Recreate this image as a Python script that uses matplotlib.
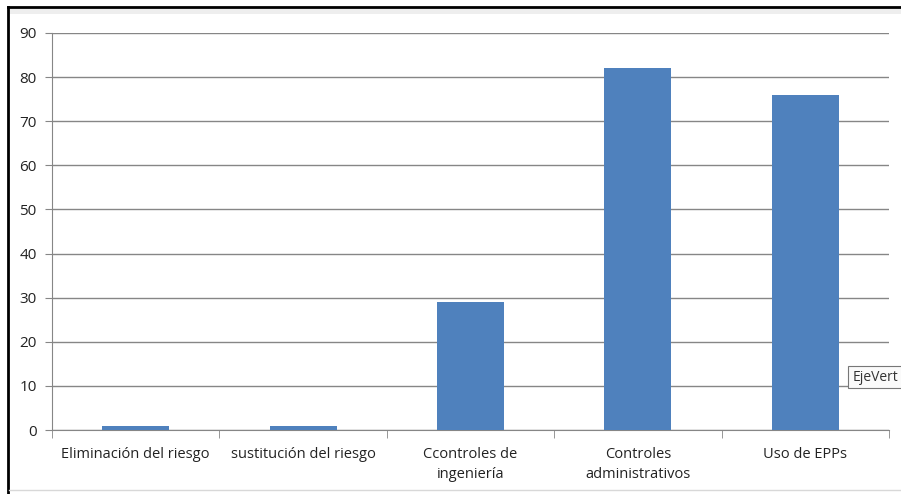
import matplotlib
matplotlib.use('Agg')
import matplotlib.pyplot as plt
import numpy as np

categories = ['Eliminación del riesgo', 'sustitución del riesgo', 'Ccontroles de\ningeniería',
              'Controles\nadministrativos', 'Uso de EPPs']
values = [1, 1, 29, 82, 76]
y_ticks = [0, 10, 20, 30, 40, 50, 60, 70, 80, 90]

plt.rcParams['font.family'] = ['Open Sans', 'DejaVu Sans']

fig = plt.figure(figsize=(9.01, 4.94), dpi=100)
ax = fig.add_axes([52 / 901, 1 - 430 / 494, (889 - 52) / 901, (430 - 33) / 494])

x = np.arange(len(categories))
ax.bar(x, values, width=0.4, color='#4f81bd', zorder=3)

ax.set_xlim(-0.5, len(categories) - 0.5)
ax.set_ylim(0, 90)
ax.set_yticks(y_ticks)
ax.yaxis.grid(True, color='#868686', linewidth=1, zorder=0)
ax.set_xticks(x)
ax.set_xticklabels(categories, fontsize=10.5, color='#222222', linespacing=1.5)
ax.set_xticks(np.arange(-0.5, len(categories)), minor=True)
ax.tick_params(axis='x', which='major', length=0, pad=12)
ax.tick_params(axis='x', which='minor', length=6, color='#868686')
ax.tick_params(axis='y', length=5, color='#868686', labelsize=11, labelcolor='#222222', pad=6)

for s in ['top', 'right']:
    ax.spines[s].set_visible(False)
ax.spines['left'].set_color('#868686')
ax.spines['bottom'].set_color('#868686')

# frame of the screenshot
fig.add_artist(plt.Line2D([8 / 901, 8 / 901], [0, 1 - 7 / 494], color='black', linewidth=2))
fig.add_artist(plt.Line2D([8 / 901, 1], [1 - 7 / 494, 1 - 7 / 494], color='black', linewidth=2))
fig.add_artist(plt.Rectangle((9 / 901, 1 - 14 / 494), 1, 5 / 494, color='#eeeeee', linewidth=0))
fig.add_artist(plt.Line2D([9 / 901, 1], [1 - 490 / 494, 1 - 490 / 494], color='#d8d8d8', linewidth=1))

# tooltip box running off the right edge
fig.add_artist(plt.Rectangle((848 / 901, 1 - 388 / 494), 60 / 901, 22 / 494, facecolor='#fafafa',
                             edgecolor='#777777', linewidth=0.8))
fig.text(853 / 901, 1 - 377 / 494, 'EjeVert', fontsize=10, va='center', ha='left', color='#333333')

fig.savefig('out.png', dpi=100)
